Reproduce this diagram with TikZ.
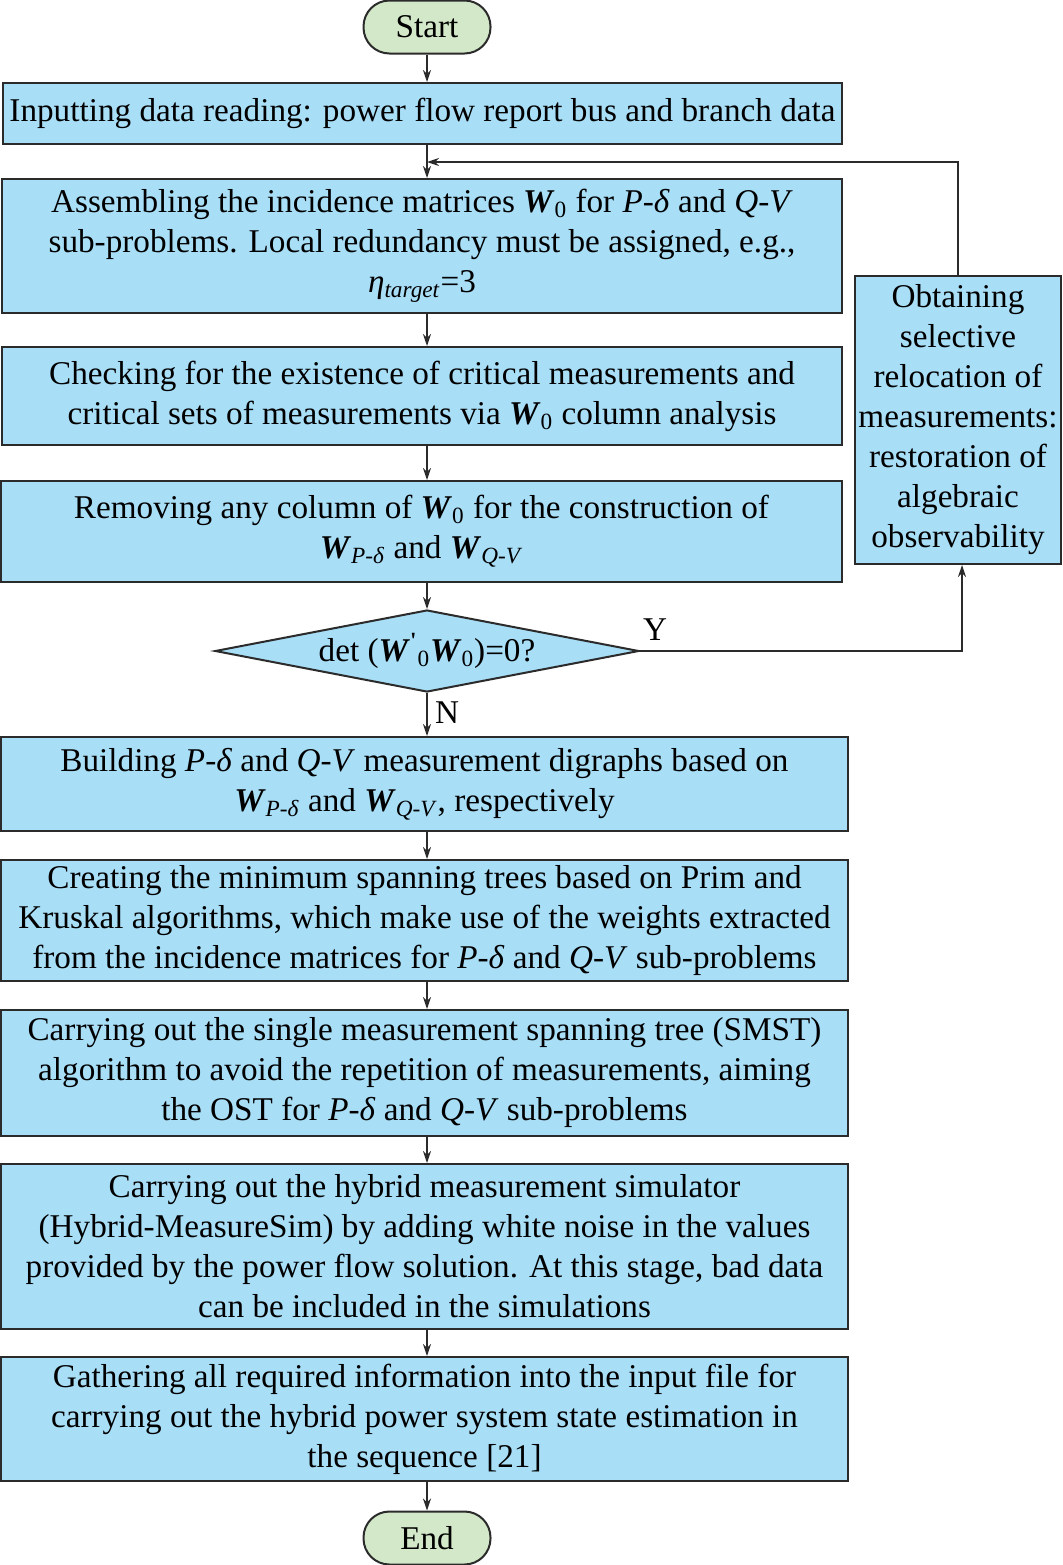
\documentclass[tikz,border=0pt]{standalone}
\usepackage{fontspec}
\setmainfont{Liberation Serif}
\usetikzlibrary{shapes.geometric,arrows.meta}
\definecolor{boxblue}{HTML}{A9DEF7}
\definecolor{termgreen}{HTML}{D3E8C8}
\definecolor{edge}{HTML}{2B2B2B}
\newcommand\BW{\textbf{\textit{W}}}
\newcommand\Wz{\BW\textsubscript{0}}
\newcommand\Pd{\textit{P}-\textit{δ}}
\newcommand\QV{\textit{Q}-\textit{V}}
\newcommand\WPd{\BW\textsubscript{\textit{P}-\textit{δ}}}
\newcommand\WQV{\BW\textsubscript{\textit{Q}-\textit{V}}}
\newcommand\pbox[6]{\node[proc, minimum width={(#4-#2)*0.5pt}, minimum height={(#5-#3)*0.5pt}] (#1) at ({(#2+#4)/2},{(#3+#5)/2}) {#6};}
\tikzset{
  proc/.style={draw=edge, line width=1pt, fill=boxblue, rectangle, inner sep=0pt, align=center, font=\fontsize{16.6}{20}\selectfont},
  term/.style={draw=edge, line width=1pt, fill=termgreen, rectangle, rounded corners=13pt, minimum width=63.5pt, minimum height=26.5pt, inner sep=0pt, font=\fontsize{16.6}{20}\selectfont},
  decis/.style={draw=edge, line width=1pt, fill=boxblue, diamond, aspect=5.17, minimum width=212pt, minimum height=41pt, inner sep=0pt, font=\fontsize{16.6}{20}\selectfont},
  arr/.style={draw=edge, line width=0.75pt, -{Stealth[length=6pt,width=4pt]}},
  lbl/.style={font=\fontsize{16.6}{20}\selectfont, inner sep=0pt}
}
\begin{document}
\begin{tikzpicture}[x=0.5pt,y=-0.5pt]
\useasboundingbox (0,0) rectangle (1062,1565);
\node[term] (start) at (427,27) {Start};
\pbox{b1}{3}{83}{842}{144}{Inputting data reading: power flow report bus and branch data}
\pbox{b2}{2}{179}{842}{313}{Assembling the incidence matrices \Wz{} for \Pd{} and \QV\\ sub-problems. Local redundancy must be assigned, e.g.,\\ \textit{η}\textsubscript{\textit{target}}=3}
\pbox{b3}{2}{347}{842}{445}{Checking for the existence of critical measurements and\\ critical sets of measurements via \Wz{} column analysis}
\pbox{b4}{1}{481}{842}{582}{Removing any column of \Wz{} for the construction of\\ \WPd{} and \WQV}
\node[decis] (dia) at (427,651) {det (\BW\textsuperscript{\textbf{\textquotesingle}}\textsubscript{0}\BW\textsubscript{0})=0?};
\pbox{obt}{855}{276}{1061}{564}{Obtaining\\ selective\\ relocation of\\ measurements:\\ restoration of\\ algebraic\\ observability}
\pbox{b5}{1}{737}{848}{831}{Building \Pd{} and \QV{} measurement digraphs based on\\ \WPd{} and \WQV, respectively}
\pbox{b6}{1}{860}{848}{981}{Creating the minimum spanning trees based on Prim and\\ Kruskal algorithms, which make use of the weights extracted\\ from the incidence matrices for \Pd{} and \QV{} sub-problems}
\pbox{b7}{1}{1010}{848}{1136}{Carrying out the single measurement spanning tree (SMST)\\ algorithm to avoid the repetition of measurements, aiming\\ the OST for \Pd{} and \QV{} sub-problems}
\pbox{b8}{1}{1164}{848}{1329}{Carrying out the hybrid measurement simulator\\ (Hybrid-MeasureSim) by adding white noise in the values\\ provided by the power flow solution. At this stage, bad data\\ can be included in the simulations}
\pbox{b9}{1}{1357}{848}{1481}{Gathering all required information into the input file for\\ carrying out the hybrid power system state estimation in\\ the sequence [21]}
\node[term] (end) at (427,1538) {End};
\coordinate (loopend) at (427,162);
\node[lbl] (ylab) at (655,630) {Y};
\node[lbl] (nlab) at (447,713) {N};
\draw[arr] (start.south) -- (b1.north -| start.south);
\draw[arr] (b1.south -| start.south) -- (b2.north -| start.south);
\draw[arr] (b2.south -| start.south) -- (b3.north -| start.south);
\draw[arr] (b3.south -| start.south) -- (b4.north -| start.south);
\draw[arr] (b4.south -| start.south) -- (dia.north);
\draw[arr] (dia.south) -- (b5.north -| dia.south);
\draw[arr] (b5.south -| start.south) -- (b6.north -| start.south);
\draw[arr] (b6.south -| start.south) -- (b7.north -| start.south);
\draw[arr] (b7.south -| start.south) -- (b8.north -| start.south);
\draw[arr] (b8.south -| start.south) -- (b9.north -| start.south);
\draw[arr] (b9.south -| start.south) -- (end.north);
\draw[arr] (obt.north) |- (loopend);
\draw[arr] (dia.east) -| ([xshift=2pt]obt.south);
\end{tikzpicture}
\end{document}
